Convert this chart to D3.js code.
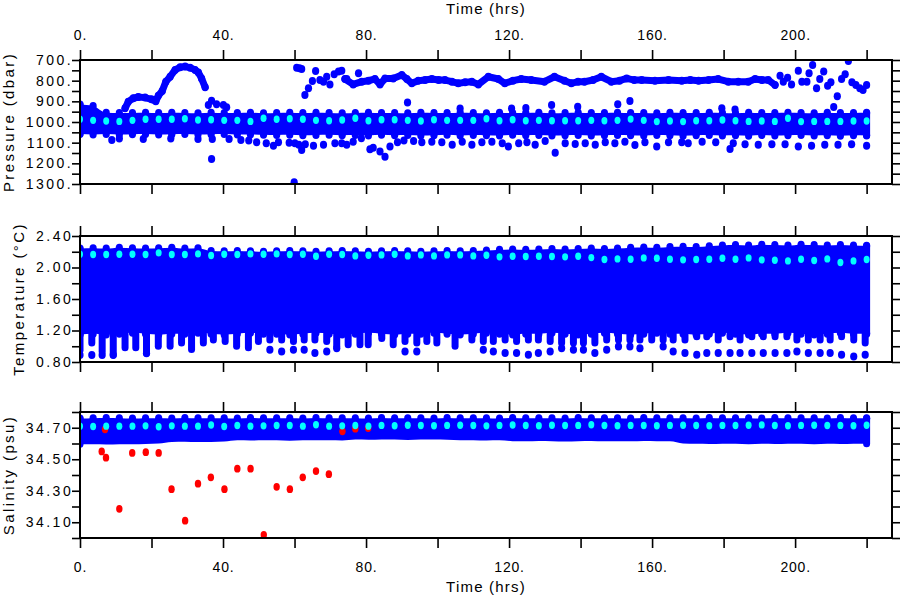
<!DOCTYPE html>
<html><head><meta charset="utf-8">
<script src="https://cdn.jsdelivr.net/npm/d3@7"></script>
<style>
body{margin:0;background:#fff;}
svg{display:block;}
text{font-family:"Liberation Sans",Arial,sans-serif;fill:#000;}
</style></head><body>
<svg id="c" width="900" height="600"></svg>
<script>
// ---------- DATA ----------
const xTickVals = [0,20,40,60,80,100,120,140,160,180,200,220];
const xLabelVals = [0,40,80,120,160,200];
const pTickVals = [700,750,800,850,900,950,1000,1050,1100,1150,1200,1250,1300];
const pLabelVals = [700,800,900,1000,1100,1200,1300];
const tTickVals = [0.8,1.0,1.2,1.4,1.6,1.8,2.0,2.2,2.4];
const tLabelVals = [0.8,1.2,1.6,2.0,2.4];
const sTickVals = [34.0,34.1,34.2,34.3,34.4,34.5,34.6,34.7,34.8];
const sLabelVals = [34.1,34.3,34.5,34.7];

// sample times of the highlighted (cyan) profile points, hrs
const cyanT = [0,3.67,7.33,11,14.67,18.33,22,25.67,29.33,33,36.67,40.33,44,47.67,51.33,55,58.67,62.33,66,69.67,73.33,77,80.67,84.33,88,91.67,95.33,99,102.67,106.33,110,113.67,117.33,121,124.67,128.33,132,135.67,139.33,143,146.67,150.33,154,157.67,161.33,165,168.67,172.33,176,179.67,183.33,187,190.67,194.33,198,201.67,205.33,209,212.67,216.33,220];

// Pressure (dbar)
const pCyan = [987,992,995,997,992,987,987,987,984,990,989,992,992,997,982,987,984,987,992,994,990,
  982,994,989,989,992,995,989,992,992,992,984,994,989,994,992,994,994,994,992,994,992,
  986,992,998,995,998,994,994,990,994,997,995,997,982,998,997,997,997,995,995];
const pBandTop = [915,922,955,957,956,955,957,955,956,958,955,957,956,955,958,956,955,957,955,956,958,
  956,955,957,956,958,955,956,957,955,956,958,955,957,956,955,958,956,955,957,956,955,
  957,956,958,955,956,957,955,956,958,955,957,956,955,956,958,955,957,956,955];
const pBandBot = [1058,1060,1058,1060,1059,1058,1060,1059,1058,1060,1059,1058,1061,1060,1062,1063,1062,1064,1063,1062,1064,
  1063,1065,1062,1064,1063,1065,1064,1062,1065,1063,1064,1065,1062,1064,1063,1065,1064,1063,1065,1064,1063,
  1064,1065,1063,1064,1066,1064,1063,1065,1064,1066,1063,1065,1064,1063,1065,1064,1066,1064,1065];
const pHumpT = [12.6,13.5,14.9,16.3,18.2,20.0,21.2,21.9,23.0,24.0,25.2,26.6,28.0,29.4,30.8,32.2,33.1,34.0,35.0];
const pHumpP = [934,902,885,879,882,890,900,873,850,805,781,748,735,732,737,748,760,789,832];
const pTrackT = [74.1,76.4,78.8,80.7,82.5,83.9,85.3,87.6,90.0,91.4,92.8,94.6,96.5,98.4,100.3,102.1,104.0,105.8,107.7,109.6,111.4,114.2,117.0,118.8,121.1,123.4,126.2,129.9,132.7,135.5,137.4,139.3,141.1,143.5,145.8,148.6,150.9,152.9,155.0,157.1,160.8,164.6,168.3,170.7,173.0,175.8,178.5,181.3,184.1,186.9,188.8,190.7,192.5,194.4];
const pTrackP = [792,818,805,800,792,818,789,789,773,792,813,800,797,792,797,797,805,813,808,805,818,781,792,813,800,792,797,805,781,800,813,805,805,797,781,805,800,789,797,797,800,797,800,797,800,797,792,805,805,805,792,797,797,821];
const pScatT = [35.9,36.8,38.2,40.1,41.0,36.8,59.9,60.6,61.4,62.0,62.9,63.9,65.0,65.9,67.1,68.1,69.0,69.9,71.1,72.3,73.2,74.6,77.9,91.6,150.4,153.8,106.3,120.7,124.7,131.9,139.2,179.5,183.2,195.8,196.7,197.9,199.0,200.9,201.9,203.3,203.9,204.9,206.0,206.9,208.0,209.1,210.0,210.8,211.8,213.0,214.0,214.9,215.9,217.0,218.1,219.0,220.0];
const pScatP = [918,897,914,918,929,1179,1292,737,740,743,869,837,802,753,797,805,781,818,769,756,752,792,764,906,914,898,935,935,932,918,926,934,940,776,805,786,818,752,805,805,764,724,837,792,756,824,808,927,875,792,769,705,808,821,837,845,821];
const pLowT = [8.9,11.0,17.7,25.4,33.0,37.0,41.7,45.0,47.2,49.4,52.1,54.1,55.5,58.5,60.1,61.2,62.0,63.0,65.3,68.1,71.3,73.2,74.6,76.4,78.7,81.1,82.0,83.9,85.3,86.7,88.8,90.6,93.3,95.6,98.4,101.2,104.1,106.9,109.6,112.4,115.2,118.1,119.8,122.7,125.0,127.3,130.1,132.9,135.7,138.5,141.3,144.1,146.9,149.6,152.4,155.2,158.0,161.3,164.6,168.3,170.1,174.0,177.8,181.8,182.7,186.0,189.7,193.5,197.2,200.9,204.6,208.3,212.0,215.8,220.0];
const pLowP = [1087,1080,1082,1080,1082,1082,1082,1087,1090,1098,1103,1115,1098,1100,1103,1110,1135,1108,1115,1110,1103,1103,1110,1095,1079,1132,1125,1143,1168,1119,1098,1090,1092,1098,1095,1098,1110,1095,1110,1098,1095,1103,1119,1103,1098,1110,1092,1149,1103,1106,1103,1110,1098,1103,1095,1111,1098,1119,1098,1098,1103,1095,1098,1131,1103,1108,1110,1108,1108,1119,1115,1110,1110,1108,1115];

// Temperature (degC)
const tCyan = [2.169,2.165,2.165,2.169,2.169,2.165,2.186,2.165,2.165,2.173,2.152,2.169,2.165,2.173,2.169,2.173,2.165,2.169,2.143,2.169,2.165,2.147,2.156,2.16,2.169,2.147,2.16,2.147,2.16,2.16,2.147,
  2.156,2.135,2.143,2.139,2.143,2.139,2.135,2.143,2.126,2.101,2.109,2.105,2.122,2.118,2.105,2.097,2.101,2.105,2.118,2.105,2.122,2.097,2.093,2.084,2.105,2.088,2.109,2.063,2.084,2.101];
const tBandTop = [2.24,2.245,2.24,2.25,2.245,2.24,2.245,2.25,2.24,2.245,
  2.21,2.205,2.21,2.205,2.2,2.205,2.21,2.205,2.2,2.205,2.21,
  2.205,2.2,2.205,2.21,2.205,2.2,2.205,2.21,2.205,2.21,2.215,
  2.225,2.23,2.225,2.23,2.235,2.23,2.235,2.24,2.235,2.24,
  2.25,2.255,2.25,2.26,2.265,2.26,2.27,
  2.28,2.285,2.28,2.29,2.285,2.28,2.29,2.285,2.28,2.285,2.28,2.275];
const tBandBot = [1.15,1.16,1.15,1.16,1.17,1.16,1.15,1.16,1.16,1.17,1.16,1.15,1.16,1.17,1.16,1.16,1.15,1.16,1.17,1.16,1.15,
  1.16,1.17,1.16,1.15,1.16,1.16,1.17,1.16,1.15,1.16,1.17,1.16,1.15,1.16,1.16,1.17,1.16,1.15,1.16,1.17,
  1.16,1.15,1.16,1.17,1.16,1.16,1.15,1.16,1.17,1.16,1.15,1.16,1.16,1.17,1.16,1.15,1.16,1.17,1.16,1.16];
const tDripT = [0,3.3,6.2,9.3,12.6,15.6,18.6,21.9,25.2,28.4,31.2,34.5,37.3,40.6,43.8,47.1,49.9,53.1,56.4,59.7,62.7,65.7,69.0,71.8,75.0,78.3,80.6,84.4,87.6,90.9,94.2,97.0,99.8,104.9,109.6,112.8,115.6,118.9,122.1,125.4,128.2,131.5,134.7,138.0,140.8,144.0,147.3,150.6,153.8,156.6,159.9,163.1,165.9,169.2,172.5,175.3,178.5,181.8,184.6,187.9,191.1,194.4,197.7,200.5,203.7,207.0,209.8,213.0,216.4,219.6];
const tDripV = [0.95,1.04,0.93,0.89,0.98,0.98,0.91,1.0,1.0,1.04,0.96,1.04,1.08,1.06,1.0,0.98,1.06,1.08,1.08,1.06,1.08,1.08,1.06,1.0,1.02,1.02,1.02,1.10,1.02,1.06,1.04,1.06,1.04,1.0,1.08,1.06,1.06,1.08,1.06,1.08,1.08,1.06,1.04,1.04,1.04,1.04,1.08,1.08,1.08,1.08,1.08,1.08,1.08,1.08,1.12,1.12,1.08,1.12,1.08,1.12,1.12,1.12,1.12,1.08,1.08,1.08,1.08,1.12,1.08,1.04];
const tDotT = [0,3.3,6.2,9.3,18.6,53.1,56.4,59.7,62.7,65.7,69.0,71.8,90.9,94.2,112.8,115.6,118.9,122.1,125.4,128.2,131.5,134.7,138.0,140.8,144.0,147.3,150.6,153.8,156.6,163.1,165.9,169.2,172.5,175.3,178.5,181.8,184.6,187.9,191.1,194.4,197.7,200.5,203.7,207.0,209.8,213.0,216.4,219.6];
const tDotV = [0.89,0.89,0.89,0.89,0.91,0.955,0.933,0.955,0.955,0.913,0.933,0.976,0.933,0.933,0.955,0.933,0.913,0.913,0.892,0.913,0.933,0.976,0.955,0.955,0.913,0.955,0.997,0.997,0.976,0.997,0.933,0.913,0.892,0.913,0.913,0.913,0.913,0.913,0.913,0.913,0.913,0.933,0.913,0.913,0.913,0.892,0.87,0.892];

// Salinity (psu)
const sCyan = [34.710,34.708,34.710,34.710,34.710,34.712,34.706,34.712,34.710,34.710,34.717,34.708,34.714,34.710,34.712,34.714,34.714,34.710,34.719,34.710,34.712,34.714,34.710,
  34.715,34.713,34.716,34.714,34.713,34.715,34.716,34.714,34.712,34.715,34.717,34.714,34.713,34.716,34.714,34.715,34.719,34.714,34.713,34.715,
  34.714,34.713,34.715,34.716,34.714,34.713,34.715,34.714,34.716,34.718,34.714,34.713,34.715,34.716,34.714,34.715,34.713,34.716];
const sBandTop = [34.758,34.760,34.762,34.760,34.758,34.761,34.760,34.759,34.762,34.760,34.761,34.760,34.758,34.762,34.760,34.761,34.760,34.759,34.762,34.760,
  34.761,34.760,34.758,34.762,34.760,34.761,34.760,34.759,34.762,34.760,34.761,34.760,34.758,34.762,34.760,34.761,34.760,34.759,34.762,34.760,
  34.761,34.760,34.758,34.762,34.760,34.761,34.760,34.759,34.762,34.760,34.761,34.760,34.758,34.762,34.760,34.761,34.760,34.759,34.762,34.760,34.761];
const sBandBot = [34.595,34.595,34.594,34.596,34.595,34.597,34.600,34.610,34.611,34.609,34.610,34.612,34.620,34.619,34.621,34.620,34.618,34.620,34.621,34.620,34.619,
  34.625,34.624,34.626,34.625,34.623,34.625,34.626,34.624,34.620,34.621,34.619,34.620,34.615,34.614,34.616,34.615,34.613,34.615,34.616,34.614,34.615,
  34.614,34.616,34.615,34.614,34.600,34.598,34.597,34.599,34.598,34.596,34.598,34.597,34.599,34.598,34.596,34.598,34.597,34.599,34.598];
const redT = [6.07,7.0,7.27,11.0,14.6,18.4,22.0,25.6,29.4,33.0,36.6,40.4,44.0,47.7,51.4,55.0,58.7,62.3,66.0,69.6,73.4,77.0,80.6];
const redS = [34.55,34.69,34.51,34.185,34.54,34.545,34.54,34.31,34.11,34.345,34.385,34.31,34.44,34.44,34.02,34.325,34.31,34.385,34.425,34.405,34.677,34.694,34.698];

// ---------- DRAW ----------
const BLUE = "#0000ff", CYAN = "#00ffff", RED = "#ff0000";
const svg = d3.select("#c");
const X0 = 80, X1 = 892;
const x = d3.scaleLinear().domain([0, 227.1]).range([X0, X1]);
const has = (arr, d) => arr.some(v => Math.abs(v - d) < 1e-6);

const panels = [
  {id:"p", top:60, bot:184, dom:[700,1300], rev:true, ticks:pTickVals, labels:pLabelVals, fmt:d=>d+".", title:"Pressure (dbar)", titleX:13.5},
  {id:"t", top:236, bot:362, dom:[0.8,2.4], rev:false, ticks:tTickVals, labels:tLabelVals, fmt:d=>d.toFixed(2), title:"Temperature (\u00B0C)", titleX:24},
  {id:"s", top:412, bot:538, dom:[34.0,34.8], rev:false, ticks:sTickVals, labels:sLabelVals, fmt:d=>d.toFixed(2), title:"Salinity (psu)", titleX:13.5}
];
panels.forEach(p => { p.y = d3.scaleLinear().domain(p.dom).range(p.rev ? [p.top, p.bot] : [p.bot, p.top]); });

const defs = svg.append("defs");
panels.forEach(p => {
  defs.append("clipPath").attr("id", "clip-" + p.id).append("rect")
    .attr("x", X0).attr("y", p.top).attr("width", X1 - X0).attr("height", p.bot - p.top);
});

function dots(g, ts, vs, y, color, rx, ry) {
  g.append("g").selectAll("ellipse").data(ts).join("ellipse")
    .attr("cx", d => x(d)).attr("cy", (d, i) => y(vs[i]))
    .attr("rx", rx).attr("ry", ry).attr("fill", color);
}
function chain(g, ts, vs, y, color) {
  const line = d3.line().x(d => x(d)).y((d, i) => y(vs[i]));
  g.append("path").datum(ts).attr("d", line).attr("fill", "none")
    .attr("stroke", color).attr("stroke-width", 7).attr("stroke-linecap", "round").attr("stroke-linejoin", "round");
  dots(g, ts, vs, y, color, 3.6, 4);
}
function band(g, top, bot, y, topDots, botDots) {
  const area = d3.area().x(d => x(d)).y0((d, i) => y(bot[i])).y1((d, i) => y(top[i])).curve(d3.curveMonotoneX);
  g.append("path").datum(cyanT).attr("d", area).attr("fill", BLUE);
  const n = cyanT.length - 1;
  [0, n].forEach(i => {
    g.append("line").attr("x1", x(cyanT[i])).attr("x2", x(cyanT[i]))
      .attr("y1", y(top[i])).attr("y2", y(bot[i]))
      .attr("stroke", BLUE).attr("stroke-width", 7).attr("stroke-linecap", "round");
  });
  if (topDots) dots(g, cyanT, top, y, BLUE, 3.6, 4);
  if (botDots) dots(g, cyanT, bot, y, BLUE, 3.6, 4);
}

// Pressure panel
{
  const p = panels[0], y = p.y;
  const g = svg.append("g").attr("clip-path", "url(#clip-p)");
  band(g, pBandTop, pBandBot, y, true, true);
  dots(g, pLowT, pLowP, y, BLUE, 3.6, 4);
  chain(g, pHumpT, pHumpP, y, BLUE);
  chain(g, pTrackT, pTrackP, y, BLUE);
  dots(g, pScatT, pScatP, y, BLUE, 3.6, 4);
  dots(g, cyanT, pCyan, y, CYAN, 3, 3.7);
}
// Temperature panel
{
  const p = panels[1], y = p.y;
  const g = svg.append("g").attr("clip-path", "url(#clip-t)");
  const bandBase = d3.mean(tBandBot);
  g.append("g").selectAll("line").data(tDripT).join("line")
    .attr("x1", d => x(d)).attr("x2", d => x(d))
    .attr("y1", y(bandBase)).attr("y2", (d, i) => y(tDripV[i]))
    .attr("stroke", BLUE).attr("stroke-width", 7).attr("stroke-linecap", "round");
  dots(g, tDotT, tDotV, y, BLUE, 3.6, 4);
  band(g, tBandTop, tBandBot, y, true, true);
  dots(g, cyanT, tCyan, y, CYAN, 3, 3.7);
}
// Salinity panel
{
  const p = panels[2], y = p.y;
  const g = svg.append("g").attr("clip-path", "url(#clip-s)");
  band(g, sBandTop, sBandBot, y, true, false);
  dots(g, redT, redS, y, RED, 3.2, 3.9);
  dots(g, cyanT, sCyan, y, CYAN, 3, 3.7);
}

// Frames and axes
panels.forEach((p, k) => {
  const ax = svg.append("g");
  // top axis
  const top = ax.append("g").attr("transform", `translate(0,${p.top})`)
    .call(d3.axisTop(x).tickValues(xTickVals).tickSize(10).tickPadding(10)
      .tickFormat(d => (k === 0 && has(xLabelVals, d)) ? d + "." : ""));
  const bot = ax.append("g").attr("transform", `translate(0,${p.bot})`)
    .call(d3.axisBottom(x).tickValues(xTickVals).tickSize(10).tickPadding(14)
      .tickFormat(d => (k === 2 && has(xLabelVals, d)) ? d + "." : ""));
  const left = ax.append("g").attr("transform", `translate(${X0},0)`)
    .call(d3.axisLeft(p.y).tickValues(p.ticks).tickSize(8)
      .tickFormat(d => has(p.labels, d) ? p.fmt(d) : ""));
  const right = ax.append("g").attr("transform", `translate(${X1},0)`)
    .call(d3.axisRight(p.y).tickValues(p.ticks).tickSize(8).tickFormat(""));
  [top, bot, left, right].forEach(a => {
    a.select(".domain").remove();
    a.selectAll("line").attr("stroke", "#000").attr("stroke-width", 1.6);
    a.selectAll("text").attr("font-family", "Liberation Sans, Arial, sans-serif").attr("fill", "#000");
  });
  [top, bot].forEach(a => a.selectAll("text").attr("font-size", 14).style("letter-spacing", "0.8px"));
  left.selectAll("text").attr("font-size", 14).style("letter-spacing", "2.5px").attr("x", -6.8);
  // frame
  svg.append("rect").attr("x", X0).attr("y", p.top).attr("width", X1 - X0).attr("height", p.bot - p.top)
    .attr("fill", "none").attr("stroke", "#000").attr("stroke-width", 2);
  // y title
  const cy = (p.top + p.bot) / 2;
  svg.append("text").attr("transform", `translate(${p.titleX},${cy}) rotate(-90)`)
    .attr("text-anchor", "middle").attr("font-size", 15).style("letter-spacing", "2.4px").text(p.title);
});

// x titles
svg.append("text").attr("x", (X0 + X1) / 2).attr("y", 14).attr("text-anchor", "middle")
  .attr("font-size", 15).style("letter-spacing", "1.2px").text("Time (hrs)");
svg.append("text").attr("x", (X0 + X1) / 2).attr("y", 592).attr("text-anchor", "middle")
  .attr("font-size", 15).style("letter-spacing", "1.2px").text("Time (hrs)");
</script>
</body></html>
